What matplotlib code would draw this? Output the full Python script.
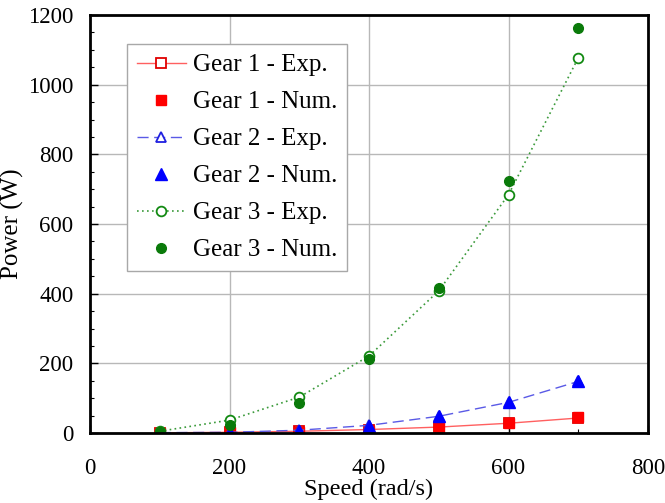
import numpy as np
import matplotlib.pyplot as plt
from matplotlib.ticker import MultipleLocator

plt.rcParams['font.family'] = ['Liberation Serif', 'DejaVu Serif']

# speeds (rad/s)
speed = [100, 200, 300, 400, 500, 600, 700]

# power (W)
gear1_exp = [0.5, 2, 5, 10, 17, 28, 43]
gear1_num = [0.5, 2, 4, 7, 18, 30, 45]
gear2_exp = [1, 2, 8, 22, 48, 88, 148]
gear2_num = [1, 1, 7, 20, 50, 90, 148]
gear3_exp = [5, 37, 103, 221, 408, 684, 1077]
gear3_num = [3, 22, 86, 213, 417, 724, 1163]

fig = plt.figure(figsize=(6.65, 5.03), dpi=100)
ax = fig.add_axes([90/665, (503-433)/503, (648-90)/665, (433-15)/503])

ax.plot(speed, gear1_exp, color='#ff6060', lw=1, marker='s', ms=7, mfc='white',
        mec='#e00000', mew=1.3, label='Gear 1 - Exp.')
ax.plot(speed, gear1_num, ls='none', marker='s', ms=7, color='#ff0000', label='Gear 1 - Num.')
ax.plot(speed, gear2_exp, color='#5a5ae6', lw=1, ls=(0, (8, 4)), marker='^', ms=7,
        mfc='white', mec='#2020e0', mew=1.3, label='Gear 2 - Exp.')
ax.plot(speed, gear2_num, ls='none', marker='^', ms=8, color='#0000ff', label='Gear 2 - Num.')
ax.plot(speed, gear3_exp, color='#3a9a3a', lw=1.2, ls=(0, (1, 2)), marker='o', ms=7,
        mfc='white', mec='#138a13', mew=1.3, label='Gear 3 - Exp.')
ax.plot(speed, gear3_num, ls='none', marker='o', ms=7, color='#0a7a0a', label='Gear 3 - Num.')

ax.set_xlim(0, 800)
ax.set_ylim(0, 1200)
ax.xaxis.set_major_locator(MultipleLocator(200))
ax.xaxis.set_minor_locator(MultipleLocator(100))
ax.yaxis.set_major_locator(MultipleLocator(200))
ax.yaxis.set_minor_locator(MultipleLocator(50))
ax.grid(True, which='major', color='#b8b8b8', lw=1)
ax.tick_params(which='both', direction='in', labelsize=16.5, top=False, right=False)
ax.tick_params(which='major', length=6, width=1)
ax.tick_params(which='minor', length=3, width=0.8)
ax.tick_params(axis='x', pad=18)
ax.tick_params(axis='y', pad=12)
for s in ax.spines.values():
    s.set_linewidth(2)

ax.set_xlabel('Speed (rad/s)', fontsize=17.5, labelpad=0)
ax.set_ylabel('Power (W)', fontsize=18, labelpad=3)

leg = ax.legend(loc='upper left', bbox_to_anchor=(0.066, 0.931), borderaxespad=0,
                fontsize=18, frameon=True, fancybox=False, edgecolor='#a8a8a8',
                framealpha=1, handlelength=1.95, handletextpad=0.3,
                labelspacing=0.58, borderpad=0.4)
leg.get_frame().set_linewidth(1)

fig.savefig('out.png', dpi=100)
